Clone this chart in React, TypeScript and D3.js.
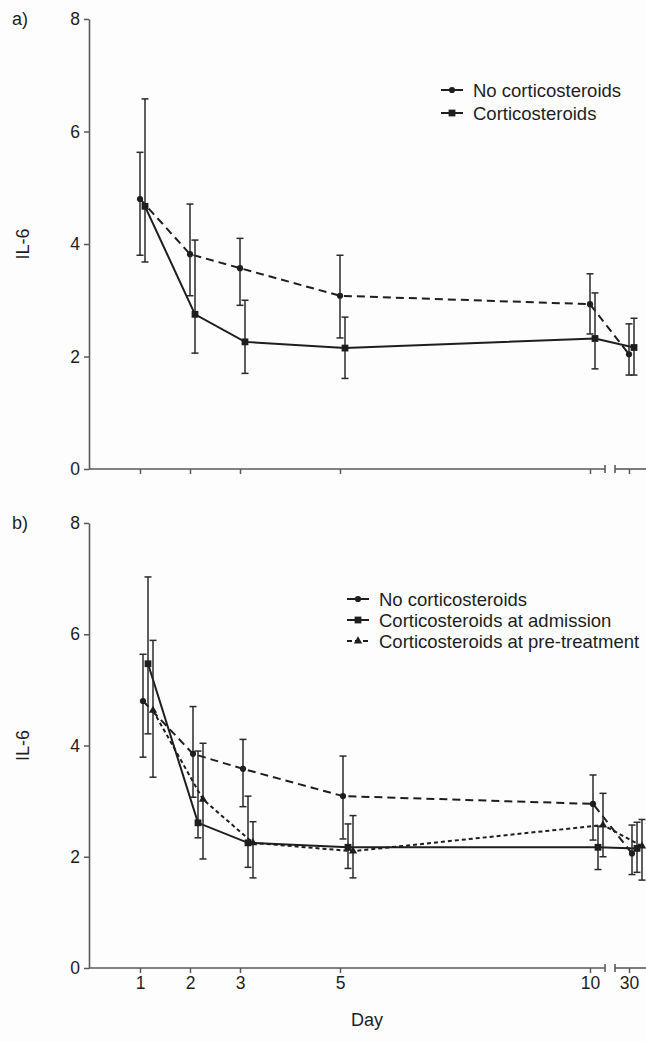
import React, { useRef, useEffect } from 'react';
import * as d3 from 'd3';

const days = [1, 2, 3, 5, 10, 30];
const yTicks = [0, 2, 4, 6, 8];

// panel a
const aNoCortMean = [4.8, 3.82, 3.57, 3.08, 2.93, 2.04];
const aNoCortUpper = [5.63, 4.71, 4.1, 3.8, 3.47, 2.58];
const aNoCortLower = [3.8, 3.08, 2.91, 2.33, 2.4, 1.67];
const aCortMean = [4.67, 2.75, 2.26, 2.15, 2.32, 2.16];
const aCortUpper = [6.58, 4.07, 3.0, 2.7, 3.13, 2.68];
const aCortLower = [3.68, 2.06, 1.7, 1.61, 1.78, 1.67];

// panel b
const bNoCortMean = [4.8, 3.85, 3.58, 3.09, 2.95, 2.06];
const bNoCortUpper = [5.64, 4.7, 4.11, 3.81, 3.47, 2.57];
const bNoCortLower = [3.79, 3.07, 2.9, 2.32, 2.3, 1.68];
const bAdmMean = [5.47, 2.61, 2.25, 2.17, 2.17, 2.15];
const bAdmUpper = [7.03, 3.9, 3.09, 2.59, 2.55, 2.62];
const bAdmLower = [4.21, 2.34, 1.81, 1.79, 1.77, 1.72];
const bPreMean = [4.63, 3.03, 2.25, 2.1, 2.57, 2.19];
const bPreUpper = [5.89, 4.04, 2.63, 2.74, 3.14, 2.67];
const bPreLower = [3.43, 1.96, 1.62, 1.62, 2.0, 1.58];

const legendA = ['No corticosteroids', 'Corticosteroids'];
const legendB = ['No corticosteroids', 'Corticosteroids at admission', 'Corticosteroids at pre-treatment'];

const font = '"Liberation Sans", Arial, sans-serif';
const ink = '#1e1e1e';
const axisColor = '#5a5a5a';

const App = () => {
  const svgRef = useRef(null);

  useEffect(() => {
    const svg = d3.select(svgRef.current);
    svg.selectAll('*').remove();

    const x = d3.scaleLinear().domain([0, 10, 30]).range([90, 590, 629]);

    const marker = (g, shape, cx, cy) => {
      if (shape === 'circle') {
        g.append('circle').attr('cx', cx).attr('cy', cy).attr('r', 3.1).attr('fill', ink);
      } else if (shape === 'square') {
        g.append('rect').attr('x', cx - 3.4).attr('y', cy - 3.4).attr('width', 6.8).attr('height', 6.8).attr('fill', ink);
      } else {
        g.append('path').attr('d', d3.symbol(d3.symbolTriangle, 30)()).attr('transform', `translate(${cx},${cy})`).attr('fill', ink);
      }
    };

    const drawPanel = (cfg) => {
      const y = d3.scaleLinear().domain([0, 8]).range([cfg.bottom, cfg.top]);
      const g = svg.append('g');

      // y axis
      const yAxis = g.append('g')
        .attr('transform', 'translate(89,0)')
        .call(d3.axisLeft(y).tickValues(yTicks).tickSize(5).tickSizeOuter(0).tickFormat(d3.format('d')));
      yAxis.select('.domain').attr('stroke', axisColor).attr('stroke-width', 1.6);
      yAxis.selectAll('.tick line').attr('stroke', axisColor).attr('stroke-width', 1.5);
      yAxis.selectAll('.tick text')
        .attr('font-size', 17.5).attr('font-family', font).attr('fill', ink).attr('x', -9);

      // x axis with a break between 10 and 30
      const xAxis = g.append('g')
        .attr('transform', `translate(0,${cfg.bottom})`)
        .call(d3.axisBottom(x).tickValues(days).tickSize(5).tickSizeOuter(0)
          .tickFormat(cfg.labels ? d3.format('d') : () => ''));
      xAxis.select('.domain').remove();
      xAxis.selectAll('.tick line').attr('stroke', axisColor).attr('stroke-width', 1.5);
      xAxis.selectAll('.tick text')
        .attr('font-size', 17.5).attr('font-family', font).attr('fill', ink).attr('y', 9);
      [[89, 605], [615, 646]].forEach(([a, b]) => {
        xAxis.append('line').attr('x1', a).attr('x2', b).attr('y1', 0).attr('y2', 0)
          .attr('stroke', axisColor).attr('stroke-width', 1.6);
      });
      [605, 615].forEach(bx => {
        xAxis.append('line').attr('x1', bx).attr('x2', bx).attr('y1', -4).attr('y2', 4)
          .attr('stroke', axisColor).attr('stroke-width', 1.6);
      });

      // labels
      g.append('text').attr('x', 12).attr('y', cfg.top + 6).attr('font-size', 18)
        .attr('font-family', font).attr('fill', ink).text(cfg.tag);
      g.append('text').attr('transform', `translate(29,${(cfg.top + cfg.bottom) / 2}) rotate(-90)`)
        .attr('text-anchor', 'middle').attr('font-size', 18).attr('font-family', font)
        .attr('fill', ink).text('IL-6');

      const line = d3.line().x(d => d[0]).y(d => d[1]);

      cfg.series.forEach(s => {
        const pts = days.map((d, i) => [x(d) + s.dx, y(s.mean[i])]);
        g.append('path').attr('d', line(pts)).attr('fill', 'none').attr('stroke', ink)
          .attr('stroke-width', 2).attr('stroke-dasharray', s.dash);
      });
      cfg.series.forEach(s => {
        days.forEach((d, i) => {
          const cx = x(d) + s.dx;
          const y1 = y(s.upper[i]);
          const y2 = y(s.lower[i]);
          g.append('line').attr('x1', cx).attr('x2', cx).attr('y1', y1).attr('y2', y2)
            .attr('stroke', '#2a2a2a').attr('stroke-width', 1.5);
          [y1, y2].forEach(cy => {
            g.append('line').attr('x1', cx - 3.5).attr('x2', cx + 3.5).attr('y1', cy).attr('y2', cy)
              .attr('stroke', '#2a2a2a').attr('stroke-width', 1.5);
          });
        });
      });
      cfg.series.forEach(s => {
        days.forEach((d, i) => marker(g, s.shape, x(d) + s.dx, y(s.mean[i])));
      });

      // legend
      cfg.series.forEach((s, i) => {
        const ly = cfg.legendY + i * cfg.legendStep;
        g.append('line').attr('x1', cfg.legendX).attr('x2', cfg.legendX + 22).attr('y1', ly).attr('y2', ly)
          .attr('stroke', ink).attr('stroke-width', 2).attr('stroke-dasharray', s.legendDash);
        marker(g, s.shape, cfg.legendX + 11, ly);
        g.append('text').attr('x', cfg.legendX + 32).attr('y', ly + 6.5).attr('font-size', 18.5)
          .attr('font-family', font).attr('fill', ink).text(s.name);
      });

      if (cfg.labels) {
        g.append('text').attr('x', 367).attr('y', cfg.bottom + 58).attr('text-anchor', 'middle')
          .attr('font-size', 18).attr('font-family', font).attr('fill', ink).text('Day');
      }
    };

    drawPanel({
      tag: 'a)', top: 19, bottom: 469, labels: false, legendX: 441, legendY: 90, legendStep: 23,
      series: [
        { name: legendA[0], mean: aNoCortMean, upper: aNoCortUpper, lower: aNoCortLower, dx: 0, shape: 'circle', dash: '8,5', legendDash: null },
        { name: legendA[1], mean: aCortMean, upper: aCortUpper, lower: aCortLower, dx: 5, shape: 'square', dash: null, legendDash: null },
      ],
    });

    drawPanel({
      tag: 'b)', top: 523, bottom: 968, labels: true, legendX: 347, legendY: 599, legendStep: 21,
      series: [
        { name: legendB[0], mean: bNoCortMean, upper: bNoCortUpper, lower: bNoCortLower, dx: 3, shape: 'circle', dash: '8,5', legendDash: null },
        { name: legendB[1], mean: bAdmMean, upper: bAdmUpper, lower: bAdmLower, dx: 8, shape: 'square', dash: null, legendDash: null },
        { name: legendB[2], mean: bPreMean, upper: bPreUpper, lower: bPreLower, dx: 13, shape: 'triangle', dash: '4,3', legendDash: '5,3' },
      ],
    });
  }, []);

  return (
    <svg ref={svgRef} width={646} height={1042}
      style={{ position: 'absolute', left: 0, top: 0, background: '#fdfdfd' }} />
  );
};

export default App;
